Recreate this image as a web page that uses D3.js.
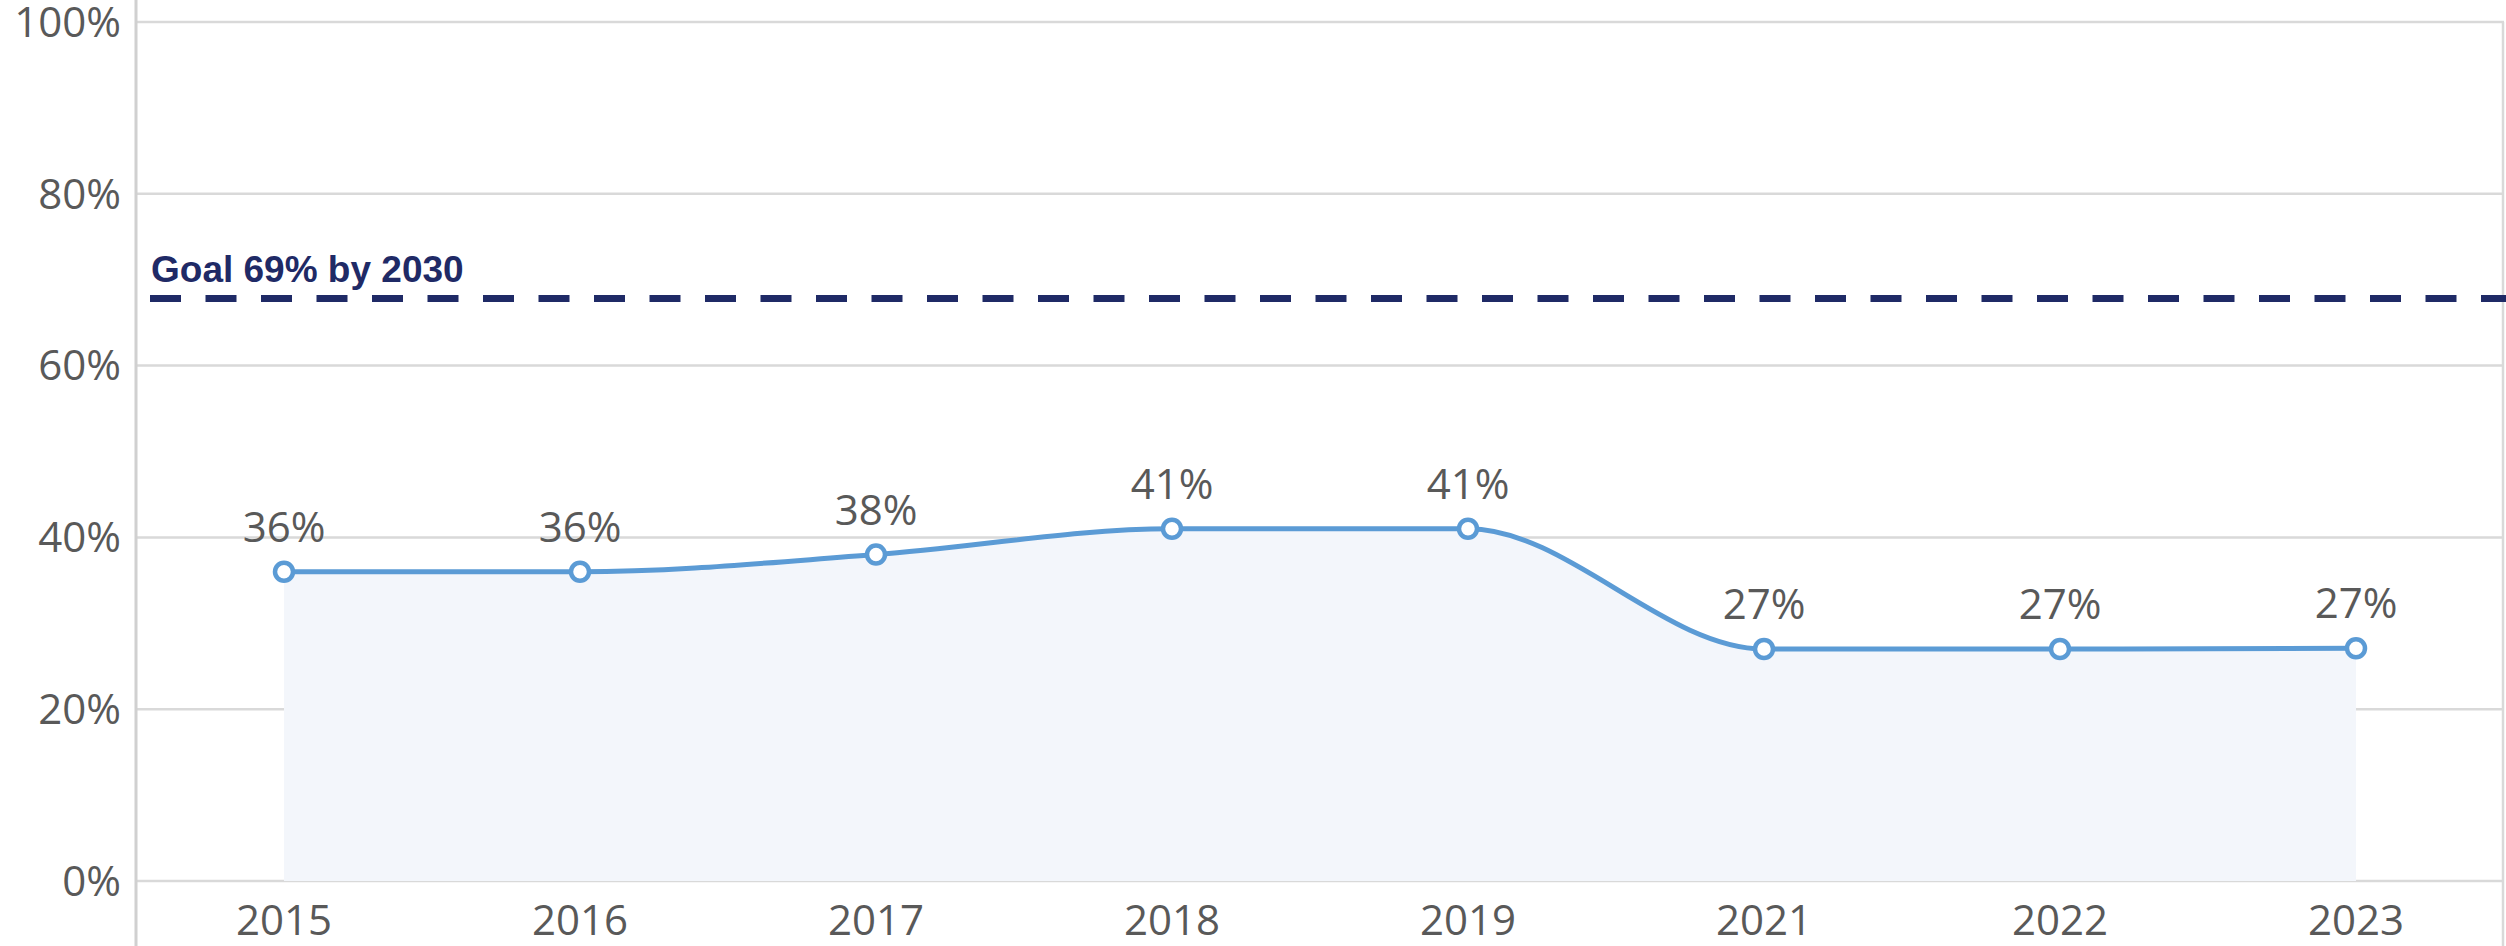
<!DOCTYPE html>
<html>
<head>
<meta charset="utf-8">
<script src="https://cdn.jsdelivr.net/npm/d3@7"></script>
<style>
  html, body { margin: 0; padding: 0; background: #fff; overflow: hidden; }
</style>
</head>
<body>
<div id="my_dataviz"></div>
<script>
// Data fra grafen
const years = ["2015", "2016", "2017", "2018", "2019", "2021", "2022", "2023"];
const values = [36, 36, 38, 41, 41, 27, 27, 27.1];
const valueLabels = ["36%", "36%", "38%", "41%", "41%", "27%", "27%", "27%"];
const yTicks = [0, 20, 40, 60, 80, 100];
const goalValue = 67.8;
const goalLabel = "Goal 69% by 2030";

// Deklaration af vores const
const width = 2506,
  height = 946,
  plot = {left: 136, right: 2504, top: 22, bottom: 881};

const svg = d3.select("#my_dataviz")
.append("svg")
  .attr("width", width)
  .attr("height", height);

var x = d3.scaleBand().domain(years).range([plot.left, plot.right]);
var y = d3.scaleLinear().domain([0, 100]).range([plot.bottom, plot.top]);

function cx(d) { return x(d) + x.bandwidth() / 2; }

// Gitterlinjer
svg.selectAll("line.grid")
  .data(yTicks)
  .enter()
  .append("line")
    .attr("class", "grid")
    .attr("x1", plot.left)
    .attr("x2", plot.right)
    .attr("y1", d => y(d))
    .attr("y2", d => y(d))
    .style("stroke", "#d9d9d9")
    .style("stroke-width", 2.5);

// Venstre og hoejre kant
svg.append("line")
  .attr("x1", plot.left).attr("x2", plot.left)
  .attr("y1", 0).attr("y2", height)
  .style("stroke", "#d0d0d0")
  .style("stroke-width", 3);

svg.append("line")
  .attr("x1", plot.right - 1).attr("x2", plot.right - 1)
  .attr("y1", y(100)).attr("y2", height)
  .style("stroke", "#d9d9d9")
  .style("stroke-width", 2.5);

// Y-akse tekster
svg.selectAll("text.ytick")
  .data(yTicks)
  .enter()
  .append("text")
    .attr("class", "ytick")
    .attr("x", plot.left - 15)
    .attr("y", d => y(d))
    .attr("dy", "0.35em")
    .attr("text-anchor", "end")
    .text(d => d + "%")
    .attr("font-family", "'Open Sans', sans-serif")
    .attr("font-size", "42px")
    .attr("fill", "#595959");

// X-akse tekster
svg.selectAll("text.xtick")
  .data(years)
  .enter()
  .append("text")
    .attr("class", "xtick")
    .attr("x", d => cx(d))
    .attr("y", plot.bottom + 54)
    .attr("text-anchor", "middle")
    .text(d => d)
    .attr("font-family", "'Open Sans', sans-serif")
    .attr("font-size", "42px")
    .attr("fill", "#595959");

const points = years.map((yr, i) => ({year: yr, value: values[i], label: valueLabels[i]}));

// Areal under linjen
const area = d3.area()
  .x(d => cx(d.year))
  .y0(y(0))
  .y1(d => y(d.value))
  .curve(d3.curveMonotoneX);

svg.append("path")
  .datum(points)
  .attr("d", area)
  .style("fill", "#f3f6fb");

// Maal-linjen
svg.append("line")
  .attr("x1", 150)
  .attr("x2", width)
  .attr("y1", y(goalValue))
  .attr("y2", y(goalValue))
  .style("stroke", "#1f2a66")
  .style("stroke-width", 7)
  .style("stroke-dasharray", "31,24.5");

svg.append("text")
  .attr("x", 151)
  .attr("y", y(goalValue) - 17)
  .text(goalLabel)
  .attr("font-family", "'Liberation Sans', Arial, sans-serif")
  .attr("font-weight", "bold")
  .attr("font-size", "37px")
  .attr("fill", "#1f2a66");

// Selve linjen
const line = d3.line()
  .x(d => cx(d.year))
  .y(d => y(d.value))
  .curve(d3.curveMonotoneX);

svg.append("path")
  .datum(points)
  .attr("d", line)
  .style("fill", "none")
  .style("stroke", "#5b9bd5")
  .style("stroke-width", 5);

// Punkter
svg.selectAll("circle")
  .data(points)
  .enter()
  .append("circle")
    .attr("cx", d => cx(d.year))
    .attr("cy", d => y(d.value))
    .attr("r", 9)
    .style("fill", "#fff")
    .style("stroke", "#5b9bd5")
    .style("stroke-width", 4.5);

// Vaerdi-tekster over punkterne
svg.selectAll("text.val")
  .data(points)
  .enter()
  .append("text")
    .attr("class", "val")
    .attr("x", d => cx(d.year))
    .attr("y", d => y(d.value) - 30)
    .attr("text-anchor", "middle")
    .text(d => d.label)
    .attr("font-family", "'Open Sans', sans-serif")
    .attr("font-size", "42px")
    .attr("fill", "#595959");
</script>
</body>
</html>
